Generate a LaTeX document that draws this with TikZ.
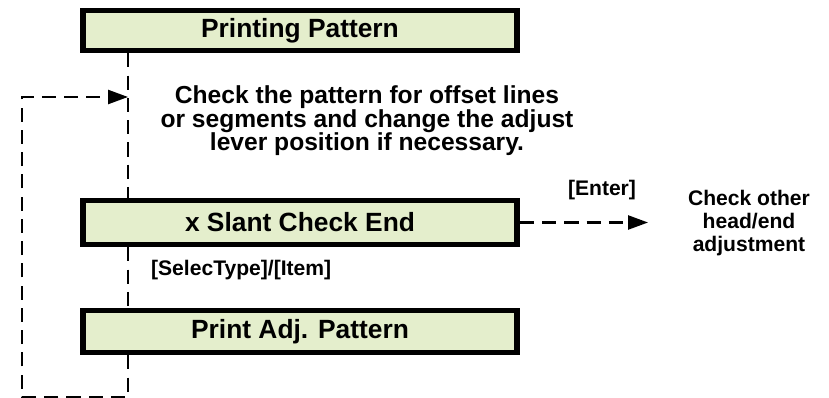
\documentclass[tikz,border=0pt]{standalone}
\usepackage{fontspec}
\setmainfont{Liberation Sans}
\usetikzlibrary{arrows.meta,positioning}
\definecolor{boxfill}{RGB}{228,238,204}

\tikzset{
  stepbox/.style={draw,line width=5pt,fill=boxfill,minimum width=13.02cm,
    minimum height=1.26cm,font=\fontsize{22.5}{22}\selectfont\bfseries},
  flow/.style={line width=1.8pt,dash pattern=on 12pt off 7pt},
  note/.style={align=center,font=\fontsize{21}{20}\selectfont\bfseries},
  keylabel/.style={font=\fontsize{18}{18}\selectfont\bfseries}
}

\begin{document}
\begin{tikzpicture}[x=0.03cm,y=-0.03cm,>={Triangle[length=17pt,width=12pt]}]
  \useasboundingbox (0,0) rectangle (829,398);

  % Steps
  \node[stepbox,minimum height=1.2cm] (pp) at (300,30.5) {Printing Pattern};
  \node[stepbox,minimum height=1.32cm] (sc) at (300,222.5) {x Slant Check End};
  \node[stepbox] (pa) at (300,331.5) {Print Adj. Pattern};

  % Texts
  \node[note] (chk) at (367,121) {Check the pattern for offset lines\\
    or segments and change the adjust\\lever position if necessary.};
  \node[keylabel,right] (sel) at (147,270) {[SelecType]/[Item]};
  \node[keylabel] (ent) at (602,190) {[Enter]};
  \node[note,font=\fontsize{18}{20}\selectfont\bfseries] (oth) at (749,223)
    {Check other\\head/end\\adjustment};

  % Trunk and loop back
  \coordinate (j1) at (128,97);
  \coordinate (c1) at (128,397);
  \coordinate (c2) at (22,397);
  \coordinate (c3) at (22,97);
  \draw[flow] (pp.south -| j1) -- (sc.north -| j1);
  \draw[flow] (sc.south -| j1) -- (pa.north -| j1);
  \draw[flow,->] (pa.south -| j1) -- (c1) -- (c2) -- (c3) -- (j1);

  % Exit
  \coordinate (x1) at (648,222.5);
  \draw[flow,->] (sc.east) -- (x1);
\end{tikzpicture}
\end{document}
